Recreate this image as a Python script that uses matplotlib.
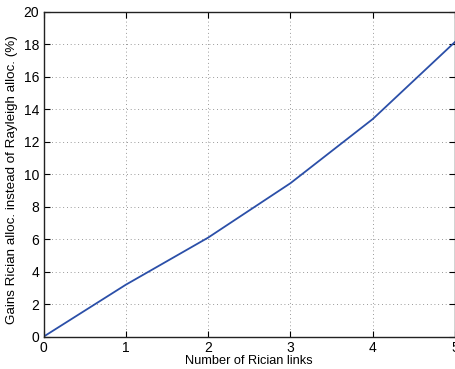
import matplotlib
matplotlib.use("Agg")
import matplotlib.pyplot as plt

# Gains of Rician allocation vs number of Rician links
n_links = [0, 1, 2, 3, 4, 5]
gains = [0.0, 3.2, 6.1, 9.45, 13.4, 18.15]
x_ticks = [0, 1, 2, 3, 4, 5]
y_ticks = [0, 2, 4, 6, 8, 10, 12, 14, 16, 18, 20]

plt.rcParams["font.family"] = ["Liberation Sans", "DejaVu Sans"]

fig = plt.figure(figsize=(4.56, 3.69), dpi=100)
ax = fig.add_axes([0.0954, 0.0875, 0.9026, 0.8805])

ax.plot(n_links, gains, color="#2b4fa8", linewidth=1.3)

ax.set_xlim(0, 5)
ax.set_ylim(0, 20)
ax.set_xticks(x_ticks)
ax.set_yticks(y_ticks)
ax.grid(True, linestyle=(0, (1, 3.5)), color="#777777", linewidth=0.6)
ax.tick_params(direction="in", top=True, right=True, length=4, width=0.8,
               labelsize=10, pad=3)
for s in ax.spines.values():
    s.set_linewidth(1.0)
    s.set_color("#222222")

ax.set_xlabel("Number of Rician links", fontsize=9.2, labelpad=0)
ax.set_ylabel("Gains Rician alloc. instead of Rayleigh alloc. (%)", fontsize=9.6)
ax.yaxis.set_label_coords(-0.062, 0.485)

fig.savefig("out.png", dpi=100)
